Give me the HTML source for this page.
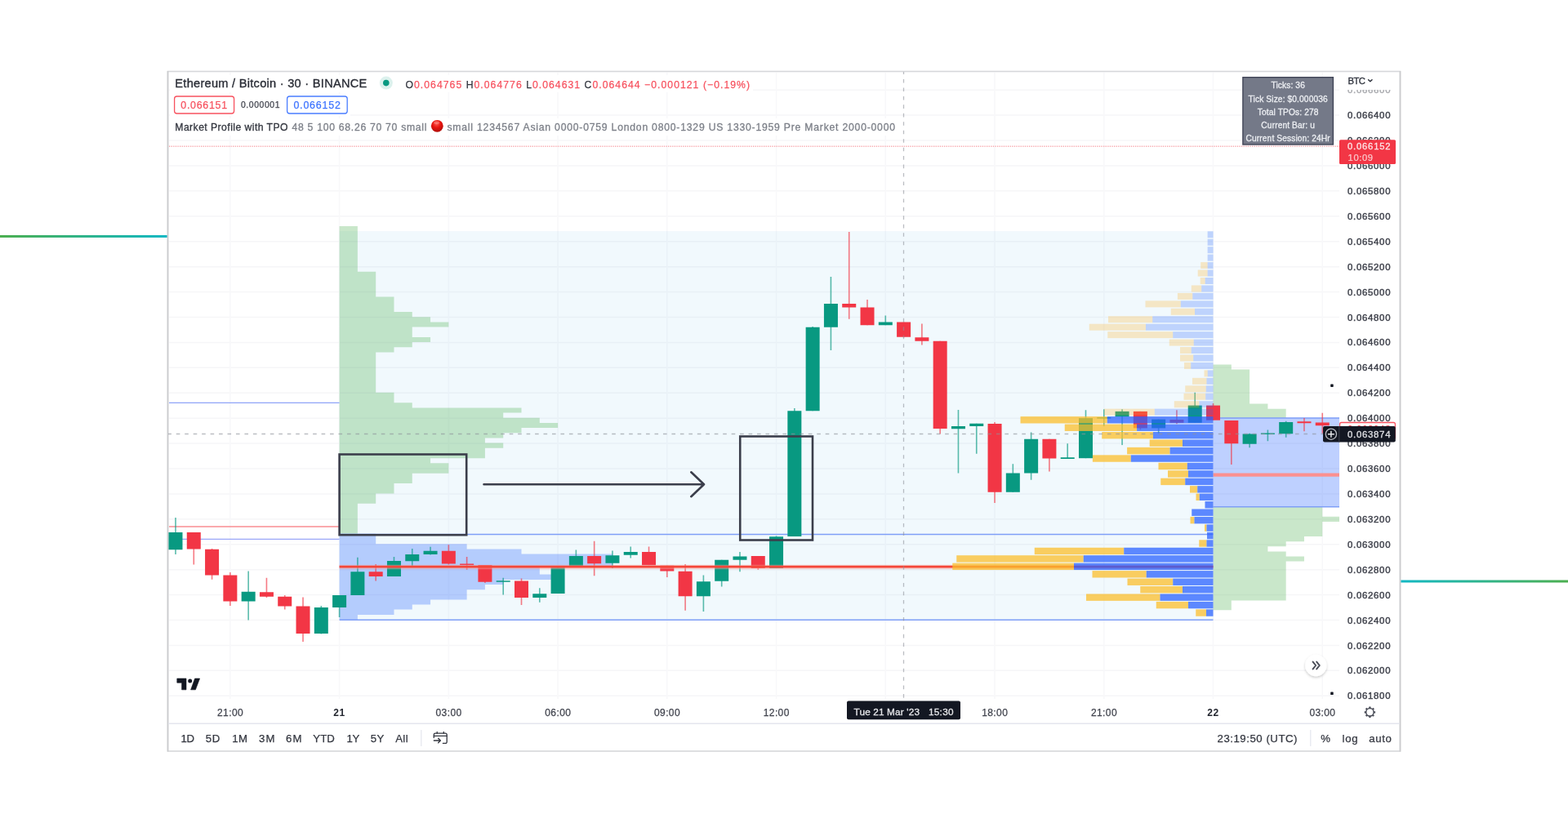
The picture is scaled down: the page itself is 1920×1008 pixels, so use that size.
<!DOCTYPE html>
<html lang="en">
<head>
<meta charset="utf-8">
<title>Ethereum / Bitcoin - Market Profile with TPO</title>
<style>
html,body{margin:0;padding:0;background:#fff;}
body{width:1920px;height:1008px;overflow:hidden;font-family:"Liberation Sans",sans-serif;}
svg{display:block;font-family:"Liberation Sans",sans-serif;filter:blur(0.55px);}
svg text{white-space:pre;}
</style>
</head>
<body>
<svg width="1920" height="1008" viewBox="0 0 1920 1008">
<defs>
<linearGradient id="gl" x1="0" x2="1" y1="0" y2="0"><stop offset="0" stop-color="#4caf50"/><stop offset="1" stop-color="#12b8c4"/></linearGradient>
<linearGradient id="gr" x1="0" x2="1" y1="0" y2="0"><stop offset="0" stop-color="#12b8c4"/><stop offset="1" stop-color="#4caf50"/></linearGradient>
<radialGradient id="ball" cx="0.45" cy="0.3" r="0.75"><stop offset="0" stop-color="#ff5a4e"/><stop offset="0.45" stop-color="#e8150f"/><stop offset="1" stop-color="#a80d08"/></radialGradient>
<clipPath id="pane"><rect x="206" y="88" width="1434" height="770"/></clipPath>
<clipPath id="axclip"><rect x="1641" y="109.8" width="73" height="750"/></clipPath>
<filter id="sh" x="-50%" y="-50%" width="200%" height="200%"><feDropShadow dx="0" dy="1.5" stdDeviation="1.5" flood-color="#000" flood-opacity="0.22"/></filter>
</defs>
<rect x="0.00" y="0.00" width="1920.00" height="1008.00" fill="#ffffff" />
<rect x="0.00" y="288.00" width="205.00" height="3.00" fill="url(#gl)" />
<rect x="1715.00" y="710.50" width="205.00" height="3.00" fill="url(#gr)" />
<rect x="205.5" y="87.5" width="1509" height="832.5" fill="#ffffff" stroke="#d6d7da" stroke-width="1.6"/>
<line x1="205.50" y1="87.00" x2="205.50" y2="920.50" stroke="#cbccce" stroke-width="1.6" />
<line x1="1714.50" y1="87.00" x2="1714.50" y2="920.50" stroke="#cbccce" stroke-width="1.6" />
<line x1="207.00" y1="110.19" x2="1640.00" y2="110.19" stroke="#f6f6f8" stroke-width="1.5" />
<line x1="207.00" y1="141.11" x2="1640.00" y2="141.11" stroke="#f6f6f8" stroke-width="1.5" />
<line x1="207.00" y1="172.03" x2="1640.00" y2="172.03" stroke="#f6f6f8" stroke-width="1.5" />
<line x1="207.00" y1="202.95" x2="1640.00" y2="202.95" stroke="#f6f6f8" stroke-width="1.5" />
<line x1="207.00" y1="233.87" x2="1640.00" y2="233.87" stroke="#f6f6f8" stroke-width="1.5" />
<line x1="207.00" y1="264.79" x2="1640.00" y2="264.79" stroke="#f6f6f8" stroke-width="1.5" />
<line x1="207.00" y1="295.71" x2="1640.00" y2="295.71" stroke="#f6f6f8" stroke-width="1.5" />
<line x1="207.00" y1="326.63" x2="1640.00" y2="326.63" stroke="#f6f6f8" stroke-width="1.5" />
<line x1="207.00" y1="357.55" x2="1640.00" y2="357.55" stroke="#f6f6f8" stroke-width="1.5" />
<line x1="207.00" y1="388.47" x2="1640.00" y2="388.47" stroke="#f6f6f8" stroke-width="1.5" />
<line x1="207.00" y1="419.39" x2="1640.00" y2="419.39" stroke="#f6f6f8" stroke-width="1.5" />
<line x1="207.00" y1="450.31" x2="1640.00" y2="450.31" stroke="#f6f6f8" stroke-width="1.5" />
<line x1="207.00" y1="481.23" x2="1640.00" y2="481.23" stroke="#f6f6f8" stroke-width="1.5" />
<line x1="207.00" y1="512.15" x2="1640.00" y2="512.15" stroke="#f6f6f8" stroke-width="1.5" />
<line x1="207.00" y1="543.07" x2="1640.00" y2="543.07" stroke="#f6f6f8" stroke-width="1.5" />
<line x1="207.00" y1="573.99" x2="1640.00" y2="573.99" stroke="#f6f6f8" stroke-width="1.5" />
<line x1="207.00" y1="604.91" x2="1640.00" y2="604.91" stroke="#f6f6f8" stroke-width="1.5" />
<line x1="207.00" y1="635.83" x2="1640.00" y2="635.83" stroke="#f6f6f8" stroke-width="1.5" />
<line x1="207.00" y1="666.75" x2="1640.00" y2="666.75" stroke="#f6f6f8" stroke-width="1.5" />
<line x1="207.00" y1="697.67" x2="1640.00" y2="697.67" stroke="#f6f6f8" stroke-width="1.5" />
<line x1="207.00" y1="728.59" x2="1640.00" y2="728.59" stroke="#f6f6f8" stroke-width="1.5" />
<line x1="207.00" y1="759.51" x2="1640.00" y2="759.51" stroke="#f6f6f8" stroke-width="1.5" />
<line x1="207.00" y1="790.43" x2="1640.00" y2="790.43" stroke="#f6f6f8" stroke-width="1.5" />
<line x1="207.00" y1="821.35" x2="1640.00" y2="821.35" stroke="#f6f6f8" stroke-width="1.5" />
<line x1="207.00" y1="852.27" x2="1640.00" y2="852.27" stroke="#f6f6f8" stroke-width="1.5" />
<line x1="281.86" y1="89.00" x2="281.86" y2="856.00" stroke="#f8f8fa" stroke-width="1.6" />
<line x1="415.60" y1="89.00" x2="415.60" y2="856.00" stroke="#f8f8fa" stroke-width="1.6" />
<line x1="549.34" y1="89.00" x2="549.34" y2="856.00" stroke="#f8f8fa" stroke-width="1.6" />
<line x1="683.08" y1="89.00" x2="683.08" y2="856.00" stroke="#f8f8fa" stroke-width="1.6" />
<line x1="816.82" y1="89.00" x2="816.82" y2="856.00" stroke="#f8f8fa" stroke-width="1.6" />
<line x1="950.56" y1="89.00" x2="950.56" y2="856.00" stroke="#f8f8fa" stroke-width="1.6" />
<line x1="1084.30" y1="89.00" x2="1084.30" y2="856.00" stroke="#f8f8fa" stroke-width="1.6" />
<line x1="1218.04" y1="89.00" x2="1218.04" y2="856.00" stroke="#f8f8fa" stroke-width="1.6" />
<line x1="1351.78" y1="89.00" x2="1351.78" y2="856.00" stroke="#f8f8fa" stroke-width="1.6" />
<line x1="1485.52" y1="89.00" x2="1485.52" y2="856.00" stroke="#f8f8fa" stroke-width="1.6" />
<line x1="1619.26" y1="89.00" x2="1619.26" y2="856.00" stroke="#f8f8fa" stroke-width="1.6" />
<rect x="415.60" y="283.10" width="1069.92" height="475.90" fill="rgba(41,167,230,0.068)" />
<line x1="207.00" y1="179.30" x2="1640.00" y2="179.30" stroke="#f8aab0" stroke-width="1.5" stroke-dasharray="1.3 1.3"/>
<path d="M415.60 277.05 L437.89 277.05 L437.89 332.63 L460.18 332.63 L460.18 363.51 L482.47 363.51 L482.47 382.04 L504.76 382.04 L504.76 388.22 L527.05 388.22 L527.05 394.39 L549.34 394.39 L549.34 400.57 L504.76 400.57 L504.76 412.92 L527.05 412.92 L527.05 419.10 L504.76 419.10 L504.76 425.27 L482.47 425.27 L482.47 431.45 L460.18 431.45 L460.18 480.86 L482.47 480.86 L482.47 493.21 L504.76 493.21 L504.76 499.39 L638.50 499.39 L638.50 505.56 L616.21 505.56 L616.21 511.74 L660.79 511.74 L660.79 517.91 L683.08 517.91 L683.08 524.09 L638.50 524.09 L638.50 530.27 L616.21 530.27 L616.21 536.44 L593.92 536.44 L593.92 542.62 L616.21 542.62 L616.21 548.79 L593.92 548.79 L593.92 561.15 L527.05 561.15 L527.05 567.32 L549.34 567.32 L549.34 579.67 L504.76 579.67 L504.76 592.03 L482.47 592.03 L482.47 604.38 L460.18 604.38 L460.18 616.73 L437.89 616.73 L437.89 653.79 L415.60 653.79 Z" fill="#4caf50" fill-opacity="0.3"/>
<path d="M415.60 653.80 L460.18 653.80 L460.18 666.20 L571.63 666.20 L571.63 672.40 L638.50 672.40 L638.50 678.60 L749.95 678.60 L749.95 693.60 L660.79 693.60 L660.79 703.60 L683.08 703.60 L683.08 709.90 L616.21 709.90 L616.21 716.10 L593.92 716.10 L593.92 722.30 L571.63 722.30 L571.63 734.40 L527.05 734.40 L527.05 740.40 L504.76 740.40 L504.76 746.60 L482.47 746.60 L482.47 753.00 L437.89 753.00 L437.89 759.00 L415.60 759.00 Z" fill="#2962ff" fill-opacity="0.3"/>
<path d="M1485.52 446.50 L1507.81 446.50 L1507.81 452.60 L1530.10 452.60 L1530.10 494.60 L1552.39 494.60 L1552.39 500.80 L1574.68 500.80 L1574.68 512.00 L1485.52 512.00 Z" fill="#4caf50" fill-opacity="0.3" clip-path="url(#pane)"/>
<path d="M1485.52 620.70 L1619.26 620.70 L1619.26 632.75 L1641.55 632.75 L1641.55 639.00 L1619.26 639.00 L1619.26 657.00 L1596.97 657.00 L1596.97 663.25 L1574.68 663.25 L1574.68 669.30 L1552.39 669.30 L1552.39 675.40 L1574.68 675.40 L1574.68 681.50 L1596.97 681.50 L1596.97 687.60 L1574.68 687.60 L1574.68 735.40 L1507.81 735.40 L1507.81 747.20 L1485.52 747.20 Z" fill="#4caf50" fill-opacity="0.3" clip-path="url(#pane)"/>
<rect x="1485.52" y="512.00" width="154.48" height="108.50" fill="#2962ff" fill-opacity="0.3"/>
<line x1="207.00" y1="493.40" x2="415.60" y2="493.40" stroke="#8fa4f8" stroke-width="1.4" />
<line x1="207.00" y1="660.40" x2="415.60" y2="660.40" stroke="#9aa6f8" stroke-width="1.3" />
<line x1="415.60" y1="654.60" x2="1485.52" y2="654.60" stroke="#7f9ff8" stroke-width="1.5" />
<line x1="415.60" y1="759.30" x2="1485.52" y2="759.30" stroke="#7f9ff8" stroke-width="1.5" />
<line x1="1485.52" y1="512.00" x2="1640.00" y2="512.00" stroke="#7f9ff8" stroke-width="1.5" />
<line x1="1485.52" y1="620.70" x2="1640.00" y2="620.70" stroke="#7f9ff8" stroke-width="1.5" />
<line x1="207.00" y1="645.00" x2="415.60" y2="645.00" stroke="#fa8d92" stroke-width="1.7" />
<line x1="1485.52" y1="581.60" x2="1640.00" y2="581.60" stroke="#fb9090" stroke-width="4.2" />
<g clip-path="url(#pane)">
<rect x="214.19" y="634.00" width="1.60" height="45.00" fill="#089981" fill-opacity="0.66"/>
<rect x="206.49" y="652.00" width="17.00" height="21.25" fill="#089981" />
<rect x="236.48" y="652.00" width="1.60" height="39.50" fill="#f23645" fill-opacity="0.66"/>
<rect x="228.78" y="652.00" width="17.00" height="20.50" fill="#f23645" />
<rect x="258.77" y="672.00" width="1.60" height="37.75" fill="#f23645" fill-opacity="0.66"/>
<rect x="251.07" y="672.75" width="17.00" height="31.75" fill="#f23645" />
<rect x="281.06" y="701.00" width="1.60" height="41.00" fill="#f23645" fill-opacity="0.66"/>
<rect x="273.36" y="704.50" width="17.00" height="32.00" fill="#f23645" />
<rect x="303.35" y="699.50" width="1.60" height="60.00" fill="#089981" fill-opacity="0.66"/>
<rect x="295.65" y="724.75" width="17.00" height="11.75" fill="#089981" />
<rect x="325.64" y="707.75" width="1.60" height="24.25" fill="#f23645" fill-opacity="0.66"/>
<rect x="317.94" y="725.25" width="17.00" height="5.50" fill="#f23645" />
<rect x="347.93" y="729.00" width="1.60" height="17.50" fill="#f23645" fill-opacity="0.66"/>
<rect x="340.23" y="730.75" width="17.00" height="11.75" fill="#f23645" />
<rect x="370.22" y="731.50" width="1.60" height="54.50" fill="#f23645" fill-opacity="0.66"/>
<rect x="362.52" y="742.50" width="17.00" height="33.50" fill="#f23645" />
<rect x="392.51" y="742.00" width="1.60" height="34.50" fill="#089981" fill-opacity="0.66"/>
<rect x="384.81" y="744.00" width="17.00" height="32.00" fill="#089981" />
<rect x="414.80" y="729.00" width="1.60" height="27.00" fill="#089981" fill-opacity="0.66"/>
<rect x="407.10" y="729.00" width="17.00" height="15.00" fill="#089981" />
<rect x="437.09" y="682.75" width="1.60" height="46.25" fill="#089981" fill-opacity="0.66"/>
<rect x="429.39" y="700.25" width="17.00" height="28.75" fill="#089981" />
<rect x="459.38" y="691.00" width="1.60" height="20.50" fill="#f23645" fill-opacity="0.66"/>
<rect x="451.68" y="700.25" width="17.00" height="5.75" fill="#f23645" />
<rect x="481.67" y="682.00" width="1.60" height="24.00" fill="#089981" fill-opacity="0.66"/>
<rect x="473.97" y="687.00" width="17.00" height="19.00" fill="#089981" />
<rect x="503.96" y="672.00" width="1.60" height="21.50" fill="#089981" fill-opacity="0.66"/>
<rect x="496.26" y="679.00" width="17.00" height="8.25" fill="#089981" />
<rect x="526.25" y="669.75" width="1.60" height="9.75" fill="#089981" fill-opacity="0.66"/>
<rect x="518.55" y="674.75" width="17.00" height="4.25" fill="#089981" />
<rect x="548.54" y="667.25" width="1.60" height="24.25" fill="#f23645" fill-opacity="0.66"/>
<rect x="540.84" y="674.75" width="17.00" height="15.75" fill="#f23645" />
<rect x="570.83" y="682.00" width="1.60" height="15.75" fill="#f23645" fill-opacity="0.66"/>
<rect x="563.13" y="690.50" width="17.00" height="1.50" fill="#f23645" />
<rect x="593.12" y="692.00" width="1.60" height="22.00" fill="#f23645" fill-opacity="0.66"/>
<rect x="585.42" y="692.00" width="17.00" height="20.75" fill="#f23645" />
<rect x="615.41" y="707.75" width="1.60" height="20.75" fill="#089981" fill-opacity="0.66"/>
<rect x="607.71" y="711.25" width="17.00" height="1.50" fill="#089981" />
<rect x="637.70" y="708.50" width="1.60" height="32.50" fill="#f23645" fill-opacity="0.66"/>
<rect x="630.00" y="711.50" width="17.00" height="20.50" fill="#f23645" />
<rect x="659.99" y="720.25" width="1.60" height="17.50" fill="#089981" fill-opacity="0.66"/>
<rect x="652.29" y="727.25" width="17.00" height="4.75" fill="#089981" />
<rect x="682.28" y="694.00" width="1.60" height="33.00" fill="#089981" fill-opacity="0.66"/>
<rect x="674.58" y="695.25" width="17.00" height="31.75" fill="#089981" />
<rect x="704.57" y="673.50" width="1.60" height="19.75" fill="#089981" fill-opacity="0.66"/>
<rect x="696.87" y="681.00" width="17.00" height="12.25" fill="#089981" />
<rect x="726.86" y="662.75" width="1.60" height="42.50" fill="#f23645" fill-opacity="0.66"/>
<rect x="719.16" y="681.00" width="17.00" height="9.25" fill="#f23645" />
<rect x="749.15" y="674.50" width="1.60" height="21.50" fill="#089981" fill-opacity="0.66"/>
<rect x="741.45" y="680.25" width="17.00" height="9.50" fill="#089981" />
<rect x="771.44" y="669.50" width="1.60" height="14.00" fill="#089981" fill-opacity="0.66"/>
<rect x="763.74" y="676.00" width="17.00" height="3.75" fill="#089981" />
<rect x="793.73" y="669.50" width="1.60" height="22.75" fill="#f23645" fill-opacity="0.66"/>
<rect x="786.03" y="676.00" width="17.00" height="16.25" fill="#f23645" />
<rect x="816.02" y="692.75" width="1.60" height="14.25" fill="#f23645" fill-opacity="0.66"/>
<rect x="808.32" y="692.75" width="17.00" height="6.75" fill="#f23645" />
<rect x="838.31" y="691.00" width="1.60" height="56.75" fill="#f23645" fill-opacity="0.66"/>
<rect x="830.61" y="699.75" width="17.00" height="30.50" fill="#f23645" />
<rect x="860.60" y="704.50" width="1.60" height="44.50" fill="#089981" fill-opacity="0.66"/>
<rect x="852.90" y="712.25" width="17.00" height="18.00" fill="#089981" />
<rect x="882.89" y="685.75" width="1.60" height="32.75" fill="#089981" fill-opacity="0.66"/>
<rect x="875.19" y="685.75" width="17.00" height="26.00" fill="#089981" />
<rect x="905.18" y="676.00" width="1.60" height="24.25" fill="#089981" fill-opacity="0.66"/>
<rect x="897.48" y="681.50" width="17.00" height="4.25" fill="#089981" />
<rect x="927.47" y="681.00" width="1.60" height="16.75" fill="#f23645" fill-opacity="0.66"/>
<rect x="919.77" y="681.00" width="17.00" height="15.00" fill="#f23645" />
<rect x="949.76" y="656.50" width="1.60" height="39.50" fill="#089981" fill-opacity="0.66"/>
<rect x="942.06" y="657.25" width="17.00" height="38.75" fill="#089981" />
<rect x="972.05" y="500.00" width="1.60" height="157.00" fill="#089981" fill-opacity="0.66"/>
<rect x="964.35" y="503.25" width="17.00" height="153.75" fill="#089981" />
<rect x="994.34" y="400.00" width="1.60" height="103.25" fill="#089981" fill-opacity="0.66"/>
<rect x="986.64" y="400.75" width="17.00" height="102.50" fill="#089981" />
<rect x="1016.63" y="339.00" width="1.60" height="90.00" fill="#089981" fill-opacity="0.66"/>
<rect x="1008.93" y="372.00" width="17.00" height="28.75" fill="#089981" />
<rect x="1038.92" y="284.00" width="1.60" height="106.75" fill="#f23645" fill-opacity="0.66"/>
<rect x="1031.22" y="372.00" width="17.00" height="4.50" fill="#f23645" />
<rect x="1061.21" y="367.00" width="1.60" height="31.25" fill="#f23645" fill-opacity="0.66"/>
<rect x="1053.51" y="376.50" width="17.00" height="21.75" fill="#f23645" />
<rect x="1083.50" y="386.50" width="1.60" height="11.75" fill="#089981" fill-opacity="0.66"/>
<rect x="1075.80" y="394.50" width="17.00" height="3.75" fill="#089981" />
<rect x="1105.79" y="394.50" width="1.60" height="18.75" fill="#f23645" fill-opacity="0.66"/>
<rect x="1098.09" y="394.50" width="17.00" height="18.25" fill="#f23645" />
<rect x="1128.08" y="396.50" width="1.60" height="26.00" fill="#f23645" fill-opacity="0.66"/>
<rect x="1120.38" y="413.25" width="17.00" height="4.50" fill="#f23645" />
<rect x="1150.37" y="417.75" width="1.60" height="113.75" fill="#f23645" fill-opacity="0.66"/>
<rect x="1142.67" y="417.75" width="17.00" height="107.25" fill="#f23645" />
<rect x="1172.66" y="502.00" width="1.60" height="77.50" fill="#089981" fill-opacity="0.66"/>
<rect x="1164.96" y="522.00" width="17.00" height="3.25" fill="#089981" />
<rect x="1194.95" y="518.75" width="1.60" height="37.00" fill="#089981" fill-opacity="0.66"/>
<rect x="1187.25" y="518.75" width="17.00" height="3.25" fill="#089981" />
<rect x="1217.24" y="517.00" width="1.60" height="99.00" fill="#f23645" fill-opacity="0.66"/>
<rect x="1209.54" y="519.00" width="17.00" height="83.75" fill="#f23645" />
<rect x="1239.53" y="568.25" width="1.60" height="34.50" fill="#089981" fill-opacity="0.66"/>
<rect x="1231.83" y="579.50" width="17.00" height="23.25" fill="#089981" />
<rect x="1261.82" y="529.50" width="1.60" height="58.25" fill="#089981" fill-opacity="0.66"/>
<rect x="1254.12" y="537.75" width="17.00" height="41.75" fill="#089981" />
<rect x="1284.11" y="537.75" width="1.60" height="39.75" fill="#f23645" fill-opacity="0.66"/>
<rect x="1276.41" y="537.75" width="17.00" height="23.75" fill="#f23645" />
<rect x="1306.40" y="543.25" width="1.60" height="18.75" fill="#089981" fill-opacity="0.66"/>
<rect x="1298.70" y="560.25" width="17.00" height="1.75" fill="#089981" />
<rect x="1328.69" y="502.25" width="1.60" height="58.95" fill="#089981" fill-opacity="0.66"/>
<rect x="1320.99" y="512.10" width="17.00" height="49.10" fill="#089981" />
<rect x="1350.98" y="501.30" width="1.60" height="20.70" fill="#089981" fill-opacity="0.66"/>
<rect x="1343.28" y="511.20" width="17.00" height="1.40" fill="#089981" />
<rect x="1373.27" y="501.30" width="1.60" height="43.80" fill="#089981" fill-opacity="0.66"/>
<rect x="1365.57" y="503.90" width="17.00" height="6.40" fill="#089981" />
<rect x="1395.56" y="503.90" width="1.60" height="22.40" fill="#f23645" fill-opacity="0.66"/>
<rect x="1387.86" y="503.90" width="17.00" height="20.50" fill="#f23645" />
<rect x="1417.85" y="513.60" width="1.60" height="16.90" fill="#089981" fill-opacity="0.66"/>
<rect x="1410.15" y="513.60" width="17.00" height="10.80" fill="#089981" />
<rect x="1440.14" y="502.30" width="1.60" height="16.90" fill="#f23645" fill-opacity="0.66"/>
<rect x="1432.44" y="514.00" width="17.00" height="3.80" fill="#f23645" />
<rect x="1462.43" y="480.75" width="1.60" height="37.05" fill="#089981" fill-opacity="0.66"/>
<rect x="1454.73" y="496.60" width="17.00" height="21.20" fill="#089981" />
<rect x="1484.72" y="494.00" width="1.60" height="20.70" fill="#f23645" fill-opacity="0.66"/>
<rect x="1477.02" y="496.60" width="17.00" height="18.10" fill="#f23645" />
<rect x="1507.01" y="515.00" width="1.60" height="54.00" fill="#f23645" fill-opacity="0.66"/>
<rect x="1499.31" y="515.00" width="17.00" height="28.25" fill="#f23645" />
<rect x="1529.30" y="530.75" width="1.60" height="17.50" fill="#089981" fill-opacity="0.66"/>
<rect x="1521.60" y="531.50" width="17.00" height="12.25" fill="#089981" />
<rect x="1551.59" y="526.50" width="1.60" height="13.75" fill="#089981" fill-opacity="0.66"/>
<rect x="1543.89" y="530.50" width="17.00" height="1.40" fill="#089981" />
<rect x="1573.88" y="515.75" width="1.60" height="20.00" fill="#089981" fill-opacity="0.66"/>
<rect x="1566.18" y="517.00" width="17.00" height="14.25" fill="#089981" />
<rect x="1596.17" y="512.00" width="1.60" height="16.25" fill="#f23645" fill-opacity="0.66"/>
<rect x="1588.47" y="516.25" width="17.00" height="2.00" fill="#f23645" />
<rect x="1618.46" y="505.75" width="1.60" height="25.00" fill="#f23645" fill-opacity="0.66"/>
<rect x="1610.76" y="517.50" width="17.00" height="3.75" fill="#f23645" />
</g>
<line x1="415.60" y1="694.50" x2="1485.52" y2="694.50" stroke="#f9a49c" stroke-width="5.6" stroke-opacity="0.45"/>
<line x1="415.60" y1="694.20" x2="1485.52" y2="694.20" stroke="#f4473a" stroke-width="2.7" />
<rect x="1478.65" y="283.30" width="6.87" height="8.00" fill="#2962ff" fill-opacity="0.25"/>
<rect x="1478.65" y="292.75" width="6.87" height="8.00" fill="#2962ff" fill-opacity="0.25"/>
<rect x="1478.65" y="302.20" width="6.87" height="8.00" fill="#2962ff" fill-opacity="0.25"/>
<rect x="1478.65" y="311.65" width="6.87" height="8.00" fill="#2962ff" fill-opacity="0.25"/>
<rect x="1470.20" y="321.10" width="8.45" height="8.00" fill="#ffb020" fill-opacity="0.25"/>
<rect x="1478.65" y="321.10" width="6.87" height="8.00" fill="#2962ff" fill-opacity="0.25"/>
<rect x="1466.70" y="330.55" width="11.95" height="8.00" fill="#ffb020" fill-opacity="0.25"/>
<rect x="1478.65" y="330.55" width="6.87" height="8.00" fill="#2962ff" fill-opacity="0.25"/>
<rect x="1469.70" y="340.00" width="6.00" height="8.00" fill="#ffb020" fill-opacity="0.25"/>
<rect x="1475.70" y="340.00" width="9.82" height="8.00" fill="#2962ff" fill-opacity="0.25"/>
<rect x="1458.80" y="349.45" width="12.40" height="8.00" fill="#ffb020" fill-opacity="0.25"/>
<rect x="1471.20" y="349.45" width="14.32" height="8.00" fill="#2962ff" fill-opacity="0.25"/>
<rect x="1441.90" y="358.90" width="18.40" height="8.00" fill="#ffb020" fill-opacity="0.25"/>
<rect x="1460.30" y="358.90" width="25.22" height="8.00" fill="#2962ff" fill-opacity="0.25"/>
<rect x="1402.50" y="368.35" width="43.30" height="8.00" fill="#ffb020" fill-opacity="0.25"/>
<rect x="1445.80" y="368.35" width="39.72" height="8.00" fill="#2962ff" fill-opacity="0.25"/>
<rect x="1433.75" y="377.80" width="29.25" height="8.00" fill="#ffb020" fill-opacity="0.25"/>
<rect x="1463.00" y="377.80" width="22.52" height="8.00" fill="#2962ff" fill-opacity="0.25"/>
<rect x="1357.00" y="387.25" width="54.25" height="8.00" fill="#ffb020" fill-opacity="0.25"/>
<rect x="1411.25" y="387.25" width="74.27" height="8.00" fill="#2962ff" fill-opacity="0.25"/>
<rect x="1333.75" y="396.70" width="69.25" height="8.00" fill="#ffb020" fill-opacity="0.25"/>
<rect x="1403.00" y="396.70" width="82.52" height="8.00" fill="#2962ff" fill-opacity="0.25"/>
<rect x="1356.25" y="406.15" width="80.00" height="8.00" fill="#ffb020" fill-opacity="0.25"/>
<rect x="1436.25" y="406.15" width="49.27" height="8.00" fill="#2962ff" fill-opacity="0.25"/>
<rect x="1431.75" y="415.60" width="30.00" height="8.00" fill="#ffb020" fill-opacity="0.25"/>
<rect x="1461.75" y="415.60" width="23.77" height="8.00" fill="#2962ff" fill-opacity="0.25"/>
<rect x="1445.00" y="425.05" width="13.75" height="8.00" fill="#ffb020" fill-opacity="0.25"/>
<rect x="1458.75" y="425.05" width="26.77" height="8.00" fill="#2962ff" fill-opacity="0.25"/>
<rect x="1445.00" y="434.50" width="16.25" height="8.00" fill="#ffb020" fill-opacity="0.25"/>
<rect x="1461.25" y="434.50" width="24.27" height="8.00" fill="#2962ff" fill-opacity="0.25"/>
<rect x="1450.00" y="443.95" width="8.25" height="8.00" fill="#ffb020" fill-opacity="0.25"/>
<rect x="1458.25" y="443.95" width="27.27" height="8.00" fill="#2962ff" fill-opacity="0.25"/>
<rect x="1474.50" y="453.40" width="4.25" height="8.00" fill="#ffb020" fill-opacity="0.25"/>
<rect x="1478.75" y="453.40" width="6.77" height="8.00" fill="#2962ff" fill-opacity="0.25"/>
<rect x="1460.00" y="462.85" width="17.50" height="8.00" fill="#ffb020" fill-opacity="0.25"/>
<rect x="1477.50" y="462.85" width="8.02" height="8.00" fill="#2962ff" fill-opacity="0.25"/>
<rect x="1451.25" y="472.30" width="25.50" height="8.00" fill="#ffb020" fill-opacity="0.25"/>
<rect x="1476.75" y="472.30" width="8.77" height="8.00" fill="#2962ff" fill-opacity="0.25"/>
<rect x="1449.50" y="481.75" width="26.75" height="8.00" fill="#ffb020" fill-opacity="0.25"/>
<rect x="1476.25" y="481.75" width="9.27" height="8.00" fill="#2962ff" fill-opacity="0.25"/>
<rect x="1437.80" y="491.20" width="30.60" height="8.00" fill="#ffb020" fill-opacity="0.25"/>
<rect x="1468.40" y="491.20" width="17.12" height="8.00" fill="#2962ff" fill-opacity="0.25"/>
<rect x="1352.00" y="500.65" width="61.80" height="8.00" fill="#ffb020" fill-opacity="0.25"/>
<rect x="1413.80" y="500.65" width="71.72" height="8.00" fill="#2962ff" fill-opacity="0.25"/>
<rect x="1249.50" y="510.10" width="106.30" height="8.40" fill="#fbbd2b" fill-opacity="0.75"/>
<rect x="1355.80" y="510.10" width="129.72" height="8.40" fill="#2962ff" fill-opacity="0.75"/>
<rect x="1303.75" y="519.55" width="88.35" height="8.40" fill="#fbbd2b" fill-opacity="0.75"/>
<rect x="1392.10" y="519.55" width="93.42" height="8.40" fill="#2962ff" fill-opacity="0.75"/>
<rect x="1349.20" y="529.00" width="62.70" height="8.40" fill="#fbbd2b" fill-opacity="0.75"/>
<rect x="1411.90" y="529.00" width="73.62" height="8.40" fill="#2962ff" fill-opacity="0.75"/>
<rect x="1407.70" y="538.45" width="40.30" height="8.40" fill="#fbbd2b" fill-opacity="0.75"/>
<rect x="1448.00" y="538.45" width="37.52" height="8.40" fill="#2962ff" fill-opacity="0.75"/>
<rect x="1380.10" y="547.90" width="52.50" height="8.40" fill="#fbbd2b" fill-opacity="0.75"/>
<rect x="1432.60" y="547.90" width="52.92" height="8.40" fill="#2962ff" fill-opacity="0.75"/>
<rect x="1337.90" y="557.35" width="46.90" height="8.40" fill="#fbbd2b" fill-opacity="0.75"/>
<rect x="1384.80" y="557.35" width="100.72" height="8.40" fill="#2962ff" fill-opacity="0.75"/>
<rect x="1418.50" y="566.80" width="35.30" height="8.40" fill="#fbbd2b" fill-opacity="0.75"/>
<rect x="1453.80" y="566.80" width="31.72" height="8.40" fill="#2962ff" fill-opacity="0.75"/>
<rect x="1430.00" y="576.25" width="25.00" height="8.40" fill="#fbbd2b" fill-opacity="0.75"/>
<rect x="1455.00" y="576.25" width="30.52" height="8.40" fill="#2962ff" fill-opacity="0.75"/>
<rect x="1421.25" y="585.70" width="30.00" height="8.40" fill="#fbbd2b" fill-opacity="0.75"/>
<rect x="1451.25" y="585.70" width="34.27" height="8.40" fill="#2962ff" fill-opacity="0.75"/>
<rect x="1457.00" y="595.15" width="9.25" height="8.40" fill="#fbbd2b" fill-opacity="0.75"/>
<rect x="1466.25" y="595.15" width="19.27" height="8.40" fill="#2962ff" fill-opacity="0.75"/>
<rect x="1464.50" y="604.60" width="4.25" height="8.40" fill="#fbbd2b" fill-opacity="0.75"/>
<rect x="1468.75" y="604.60" width="16.77" height="8.40" fill="#2962ff" fill-opacity="0.75"/>
<rect x="1475.50" y="614.05" width="10.02" height="8.40" fill="#2962ff" fill-opacity="0.75"/>
<rect x="1459.25" y="623.50" width="26.27" height="8.40" fill="#2962ff" fill-opacity="0.75"/>
<rect x="1457.50" y="632.95" width="5.00" height="8.40" fill="#fbbd2b" fill-opacity="0.75"/>
<rect x="1462.50" y="632.95" width="23.02" height="8.40" fill="#2962ff" fill-opacity="0.75"/>
<rect x="1475.00" y="642.40" width="2.50" height="8.40" fill="#fbbd2b" fill-opacity="0.75"/>
<rect x="1477.50" y="642.40" width="8.02" height="8.40" fill="#2962ff" fill-opacity="0.75"/>
<rect x="1478.00" y="651.85" width="7.52" height="8.40" fill="#2962ff" fill-opacity="0.75"/>
<rect x="1468.25" y="661.30" width="9.25" height="8.40" fill="#fbbd2b" fill-opacity="0.75"/>
<rect x="1477.50" y="661.30" width="8.02" height="8.40" fill="#2962ff" fill-opacity="0.75"/>
<rect x="1266.75" y="670.75" width="109.50" height="8.40" fill="#fbbd2b" fill-opacity="0.75"/>
<rect x="1376.25" y="670.75" width="109.27" height="8.40" fill="#2962ff" fill-opacity="0.75"/>
<rect x="1171.25" y="680.20" width="155.50" height="8.40" fill="#fbbd2b" fill-opacity="0.75"/>
<rect x="1326.75" y="680.20" width="158.77" height="8.40" fill="#2962ff" fill-opacity="0.75"/>
<rect x="1166.25" y="689.65" width="148.75" height="8.40" fill="#fbbd2b" fill-opacity="0.75"/>
<rect x="1315.00" y="689.65" width="170.52" height="8.40" fill="#2962ff" fill-opacity="0.75"/>
<rect x="1337.50" y="699.10" width="66.25" height="8.40" fill="#fbbd2b" fill-opacity="0.75"/>
<rect x="1403.75" y="699.10" width="81.77" height="8.40" fill="#2962ff" fill-opacity="0.75"/>
<rect x="1380.50" y="708.55" width="55.75" height="8.40" fill="#fbbd2b" fill-opacity="0.75"/>
<rect x="1436.25" y="708.55" width="49.27" height="8.40" fill="#2962ff" fill-opacity="0.75"/>
<rect x="1396.25" y="718.00" width="51.75" height="8.40" fill="#fbbd2b" fill-opacity="0.75"/>
<rect x="1448.00" y="718.00" width="37.52" height="8.40" fill="#2962ff" fill-opacity="0.75"/>
<rect x="1330.00" y="727.45" width="90.50" height="8.40" fill="#fbbd2b" fill-opacity="0.75"/>
<rect x="1420.50" y="727.45" width="65.02" height="8.40" fill="#2962ff" fill-opacity="0.75"/>
<rect x="1415.75" y="736.90" width="39.25" height="8.40" fill="#fbbd2b" fill-opacity="0.75"/>
<rect x="1455.00" y="736.90" width="30.52" height="8.40" fill="#2962ff" fill-opacity="0.75"/>
<rect x="1464.25" y="746.35" width="12.75" height="8.40" fill="#fbbd2b" fill-opacity="0.75"/>
<rect x="1477.00" y="746.35" width="8.52" height="8.40" fill="#2962ff" fill-opacity="0.75"/>
<rect x="415.6" y="556.5" width="155.6" height="98.7" fill="none" stroke="#3b3e4b" stroke-width="2.6"/>
<rect x="906.25" y="534.5" width="88.75" height="127" fill="none" stroke="#3b3e4b" stroke-width="2.6"/>
<path d="M592.5 593.2 L861.5 593.2 M846.3 578.3 L862 593.2 L846.3 608.2" fill="none" stroke="#3b3e4b" stroke-width="2.6" stroke-linecap="round" stroke-linejoin="round"/>
<g clip-path="url(#pane)" stroke="#8e9199" stroke-opacity="0.6" stroke-width="1.3" stroke-dasharray="4.6 5.86">
<line x1="205.3" y1="531.5" x2="1622" y2="531.5"/>
<line x1="1106.5" y1="86.5" x2="1106.5" y2="855"/>
</g>
<g clip-path="url(#axclip)">
<text x="1650.00" y="114.29" font-size="11.4" fill="#40434d" text-anchor="start" font-weight="normal" textLength="52.5" lengthAdjust="spacing" stroke="#40434d" stroke-width="0.45">0.066600</text>
<text x="1650.00" y="145.21" font-size="11.4" fill="#40434d" text-anchor="start" font-weight="normal" textLength="52.5" lengthAdjust="spacing" stroke="#40434d" stroke-width="0.45">0.066400</text>
<text x="1650.00" y="176.13" font-size="11.4" fill="#40434d" text-anchor="start" font-weight="normal" textLength="52.5" lengthAdjust="spacing" stroke="#40434d" stroke-width="0.45">0.066200</text>
<text x="1650.00" y="207.05" font-size="11.4" fill="#40434d" text-anchor="start" font-weight="normal" textLength="52.5" lengthAdjust="spacing" stroke="#40434d" stroke-width="0.45">0.066000</text>
<text x="1650.00" y="237.97" font-size="11.4" fill="#40434d" text-anchor="start" font-weight="normal" textLength="52.5" lengthAdjust="spacing" stroke="#40434d" stroke-width="0.45">0.065800</text>
<text x="1650.00" y="268.89" font-size="11.4" fill="#40434d" text-anchor="start" font-weight="normal" textLength="52.5" lengthAdjust="spacing" stroke="#40434d" stroke-width="0.45">0.065600</text>
<text x="1650.00" y="299.81" font-size="11.4" fill="#40434d" text-anchor="start" font-weight="normal" textLength="52.5" lengthAdjust="spacing" stroke="#40434d" stroke-width="0.45">0.065400</text>
<text x="1650.00" y="330.73" font-size="11.4" fill="#40434d" text-anchor="start" font-weight="normal" textLength="52.5" lengthAdjust="spacing" stroke="#40434d" stroke-width="0.45">0.065200</text>
<text x="1650.00" y="361.65" font-size="11.4" fill="#40434d" text-anchor="start" font-weight="normal" textLength="52.5" lengthAdjust="spacing" stroke="#40434d" stroke-width="0.45">0.065000</text>
<text x="1650.00" y="392.57" font-size="11.4" fill="#40434d" text-anchor="start" font-weight="normal" textLength="52.5" lengthAdjust="spacing" stroke="#40434d" stroke-width="0.45">0.064800</text>
<text x="1650.00" y="423.49" font-size="11.4" fill="#40434d" text-anchor="start" font-weight="normal" textLength="52.5" lengthAdjust="spacing" stroke="#40434d" stroke-width="0.45">0.064600</text>
<text x="1650.00" y="454.41" font-size="11.4" fill="#40434d" text-anchor="start" font-weight="normal" textLength="52.5" lengthAdjust="spacing" stroke="#40434d" stroke-width="0.45">0.064400</text>
<text x="1650.00" y="485.33" font-size="11.4" fill="#40434d" text-anchor="start" font-weight="normal" textLength="52.5" lengthAdjust="spacing" stroke="#40434d" stroke-width="0.45">0.064200</text>
<text x="1650.00" y="516.25" font-size="11.4" fill="#40434d" text-anchor="start" font-weight="normal" textLength="52.5" lengthAdjust="spacing" stroke="#40434d" stroke-width="0.45">0.064000</text>
<text x="1650.00" y="547.17" font-size="11.4" fill="#40434d" text-anchor="start" font-weight="normal" textLength="52.5" lengthAdjust="spacing" stroke="#40434d" stroke-width="0.45">0.063800</text>
<text x="1650.00" y="578.09" font-size="11.4" fill="#40434d" text-anchor="start" font-weight="normal" textLength="52.5" lengthAdjust="spacing" stroke="#40434d" stroke-width="0.45">0.063600</text>
<text x="1650.00" y="609.01" font-size="11.4" fill="#40434d" text-anchor="start" font-weight="normal" textLength="52.5" lengthAdjust="spacing" stroke="#40434d" stroke-width="0.45">0.063400</text>
<text x="1650.00" y="639.93" font-size="11.4" fill="#40434d" text-anchor="start" font-weight="normal" textLength="52.5" lengthAdjust="spacing" stroke="#40434d" stroke-width="0.45">0.063200</text>
<text x="1650.00" y="670.85" font-size="11.4" fill="#40434d" text-anchor="start" font-weight="normal" textLength="52.5" lengthAdjust="spacing" stroke="#40434d" stroke-width="0.45">0.063000</text>
<text x="1650.00" y="701.77" font-size="11.4" fill="#40434d" text-anchor="start" font-weight="normal" textLength="52.5" lengthAdjust="spacing" stroke="#40434d" stroke-width="0.45">0.062800</text>
<text x="1650.00" y="732.69" font-size="11.4" fill="#40434d" text-anchor="start" font-weight="normal" textLength="52.5" lengthAdjust="spacing" stroke="#40434d" stroke-width="0.45">0.062600</text>
<text x="1650.00" y="763.61" font-size="11.4" fill="#40434d" text-anchor="start" font-weight="normal" textLength="52.5" lengthAdjust="spacing" stroke="#40434d" stroke-width="0.45">0.062400</text>
<text x="1650.00" y="794.53" font-size="11.4" fill="#40434d" text-anchor="start" font-weight="normal" textLength="52.5" lengthAdjust="spacing" stroke="#40434d" stroke-width="0.45">0.062200</text>
<text x="1650.00" y="825.45" font-size="11.4" fill="#40434d" text-anchor="start" font-weight="normal" textLength="52.5" lengthAdjust="spacing" stroke="#40434d" stroke-width="0.45">0.062000</text>
<text x="1650.00" y="856.37" font-size="11.4" fill="#40434d" text-anchor="start" font-weight="normal" textLength="52.5" lengthAdjust="spacing" stroke="#40434d" stroke-width="0.45">0.061800</text>
</g>
<rect x="1642.00" y="89.00" width="71.00" height="21.00" fill="#ffffff" />
<rect x="1642.00" y="110.00" width="71.00" height="5.50" fill="#ffffff" fill-opacity="0.55"/>
<text x="1650.40" y="103.30" font-size="11.3" fill="#2a2e39" text-anchor="start" font-weight="normal" textLength="21.6" lengthAdjust="spacing" stroke="#2a2e39" stroke-width="0.3">BTC</text>
<path d="M1675.6 97.7 L1677.8 99.7 L1680 97.7" fill="none" stroke="#2a2e39" stroke-width="1.5" stroke-linecap="round" stroke-linejoin="round"/>
<rect x="1640.00" y="171.30" width="69.00" height="29.70" fill="#f23645" rx="1.5"/>
<text x="1650.00" y="183.40" font-size="11.2" fill="#fde4e6" text-anchor="start" font-weight="normal" textLength="52.5" lengthAdjust="spacing" stroke="#fde4e6" stroke-width="0.3">0.066152</text>
<text x="1650.60" y="196.60" font-size="11.2" fill="#fbc9cd" text-anchor="start" font-weight="normal" textLength="30.5" lengthAdjust="spacing" stroke="#fbc9cd" stroke-width="0.2">10:09</text>
<rect x="1640.6" y="517.5" width="67.8" height="20" fill="#ffffff" stroke="#f7525f" stroke-width="1.3" rx="2"/>
<text x="1650.00" y="528.90" font-size="11.4" fill="#f23645" text-anchor="start" font-weight="normal" textLength="52.5" lengthAdjust="spacing" >0.063948</text>
<rect x="1620.00" y="522.00" width="88.80" height="19.60" fill="#131722" rx="2"/>
<circle cx="1629.9" cy="531.7" r="6.6" fill="none" stroke="#b9bcc3" stroke-width="1.3"/>
<path d="M1625.9 531.7 H1633.9 M1629.9 527.7 V535.7" fill="none" stroke="#e4e5e8" stroke-width="1.5"/>
<line x1="1639.80" y1="522.00" x2="1639.80" y2="541.60" stroke="#3a3e4a" stroke-width="1" />
<text x="1650.00" y="536.00" font-size="11.4" fill="#dfe0e4" text-anchor="start" font-weight="normal" textLength="52.5" lengthAdjust="spacing" stroke="#dfe0e4" stroke-width="0.3">0.063874</text>
<rect x="1629.20" y="470.40" width="3.50" height="3.50" fill="#131722" rx="0.6"/>
<rect x="1629.20" y="847.50" width="3.50" height="3.50" fill="#131722" rx="0.6"/>
<circle cx="1611.3" cy="815" r="13.2" fill="#ffffff" filter="url(#sh)"/>
<path d="M1607.6 810.6 L1611.2 815 L1607.6 819.4 M1612.2 810.6 L1615.8 815 L1612.2 819.4" fill="none" stroke="#474a55" stroke-width="1.9" stroke-linecap="round" stroke-linejoin="round"/>
<rect x="1521.9" y="94.7" width="110.5" height="82.3" fill="#747988" stroke="#414557" stroke-width="1.4"/>
<text x="1577.20" y="108.40" font-size="10.2" fill="#eceef2" text-anchor="middle" font-weight="normal" stroke="#eceef2" stroke-width="0.3" letter-spacing="0.12">Ticks: 36</text>
<text x="1577.20" y="124.65" font-size="10.2" fill="#eceef2" text-anchor="middle" font-weight="normal" stroke="#eceef2" stroke-width="0.3" letter-spacing="0.12">Tick Size: $0.000036</text>
<text x="1577.20" y="140.90" font-size="10.2" fill="#eceef2" text-anchor="middle" font-weight="normal" stroke="#eceef2" stroke-width="0.3" letter-spacing="0.12">Total TPOs: 278</text>
<text x="1577.20" y="157.15" font-size="10.2" fill="#eceef2" text-anchor="middle" font-weight="normal" stroke="#eceef2" stroke-width="0.3" letter-spacing="0.12">Current Bar: u</text>
<text x="1577.20" y="173.40" font-size="10.2" fill="#eceef2" text-anchor="middle" font-weight="normal" stroke="#eceef2" stroke-width="0.3" letter-spacing="0.12">Current Session: 24Hr</text>
<rect x="208.00" y="92.00" width="714.00" height="21.00" fill="#ffffff" />
<rect x="208.00" y="115.00" width="221.00" height="27.00" fill="#ffffff" />
<rect x="208.00" y="145.00" width="892.00" height="21.00" fill="#ffffff" />
<text x="214.30" y="107.40" font-size="14.6" fill="#2a2d36" text-anchor="start" font-weight="normal" textLength="235" lengthAdjust="spacing" stroke="#2a2d36" stroke-width="0.35">Ethereum / Bitcoin · 30 · BINANCE</text>
<circle cx="472.8" cy="101.6" r="8" fill="#089981" fill-opacity="0.14"/>
<circle cx="472.8" cy="101.6" r="3.8" fill="#089981"/>
<text x="496.5" y="108" font-size="12.2" fill="#33363f" stroke="#33363f" stroke-width="0.25" textLength="421.5" lengthAdjust="spacing">O<tspan fill="#f7525f" stroke="#f7525f">0.064765</tspan> H<tspan fill="#f7525f" stroke="#f7525f">0.064776</tspan> L<tspan fill="#f7525f" stroke="#f7525f">0.064631</tspan> C<tspan fill="#f7525f" stroke="#f7525f">0.064644 −0.000121 (−0.19%)</tspan></text>
<rect x="213.6" y="118" width="73" height="21" rx="3" fill="#ffffff" stroke="#f7525f" stroke-width="1.3"/>
<text x="221.30" y="133.00" font-size="12.4" fill="#f7525f" text-anchor="start" font-weight="normal" textLength="56.8" lengthAdjust="spacing" stroke="#f7525f" stroke-width="0.25">0.066151</text>
<text x="295.00" y="132.20" font-size="10.4" fill="#40434d" text-anchor="start" font-weight="normal" textLength="47.5" lengthAdjust="spacing" stroke="#40434d" stroke-width="0.25">0.000001</text>
<rect x="351.6" y="118" width="73.6" height="21" rx="3" fill="#ffffff" stroke="#4a7dff" stroke-width="1.3"/>
<text x="359.40" y="133.00" font-size="12.4" fill="#3d73ff" text-anchor="start" font-weight="normal" textLength="57.5" lengthAdjust="spacing" stroke="#3d73ff" stroke-width="0.25">0.066152</text>
<text x="214.30" y="159.50" font-size="12.2" fill="#33363f" text-anchor="start" font-weight="normal" textLength="138.2" lengthAdjust="spacing" stroke="#33363f" stroke-width="0.3">Market Profile with TPO</text>
<text x="357.50" y="159.50" font-size="12.2" fill="#7d8089" text-anchor="start" font-weight="normal" textLength="165" lengthAdjust="spacing" stroke="#7d8089" stroke-width="0.3">48 5 100 68.26 70 70 small</text>
<circle cx="535.3" cy="154.3" r="7.4" fill="url(#ball)"/>
<ellipse cx="534.6" cy="150.3" rx="3.6" ry="1.9" fill="#ffffff" fill-opacity="0.22"/>
<text x="547.50" y="159.50" font-size="12.2" fill="#7d8089" text-anchor="start" font-weight="normal" textLength="548.5" lengthAdjust="spacing" stroke="#7d8089" stroke-width="0.3">small 1234567 Asian 0000-0759 London 0800-1329 US 1330-1959 Pre Market 2000-0000</text>
<path d="M216.8 831 H228 V844.8 H222.6 V836.2 H216.8 Z" fill="#131722" stroke="#131722" stroke-width="0.6" stroke-linejoin="round"/>
<circle cx="232.7" cy="833.9" r="2.5" fill="#131722"/>
<path d="M238.6 831 H244.6 L239.4 844.8 H233.6 Z" fill="#131722" stroke="#131722" stroke-width="0.6" stroke-linejoin="round"/>
<text x="266.06" y="876.60" font-size="12" fill="#40434d" text-anchor="start" font-weight="normal" textLength="31.6" lengthAdjust="spacing" stroke="#40434d" stroke-width="0.25">21:00</text>
<text x="415.60" y="876.60" font-size="12" fill="#23262f" text-anchor="middle" font-weight="bold" letter-spacing="0.6">21</text>
<text x="533.54" y="876.60" font-size="12" fill="#40434d" text-anchor="start" font-weight="normal" textLength="31.6" lengthAdjust="spacing" stroke="#40434d" stroke-width="0.25">03:00</text>
<text x="667.28" y="876.60" font-size="12" fill="#40434d" text-anchor="start" font-weight="normal" textLength="31.6" lengthAdjust="spacing" stroke="#40434d" stroke-width="0.25">06:00</text>
<text x="801.02" y="876.60" font-size="12" fill="#40434d" text-anchor="start" font-weight="normal" textLength="31.6" lengthAdjust="spacing" stroke="#40434d" stroke-width="0.25">09:00</text>
<text x="934.76" y="876.60" font-size="12" fill="#40434d" text-anchor="start" font-weight="normal" textLength="31.6" lengthAdjust="spacing" stroke="#40434d" stroke-width="0.25">12:00</text>
<text x="1202.24" y="876.60" font-size="12" fill="#40434d" text-anchor="start" font-weight="normal" textLength="31.6" lengthAdjust="spacing" stroke="#40434d" stroke-width="0.25">18:00</text>
<text x="1335.98" y="876.60" font-size="12" fill="#40434d" text-anchor="start" font-weight="normal" textLength="31.6" lengthAdjust="spacing" stroke="#40434d" stroke-width="0.25">21:00</text>
<text x="1485.52" y="876.60" font-size="12" fill="#23262f" text-anchor="middle" font-weight="bold" letter-spacing="0.6">22</text>
<text x="1603.46" y="876.60" font-size="12" fill="#40434d" text-anchor="start" font-weight="normal" textLength="31.6" lengthAdjust="spacing" stroke="#40434d" stroke-width="0.25">03:00</text>
<rect x="1037.00" y="858.60" width="139.00" height="22.60" fill="#131722" rx="2"/>
<text x="1045.50" y="875.60" font-size="11.8" fill="#e6e7ea" text-anchor="start" font-weight="normal" textLength="80.5" lengthAdjust="spacing" stroke="#e6e7ea" stroke-width="0.3">Tue 21 Mar '23</text>
<text x="1137.00" y="875.60" font-size="11.8" fill="#e6e7ea" text-anchor="start" font-weight="normal" textLength="30.5" lengthAdjust="spacing" stroke="#e6e7ea" stroke-width="0.3">15:30</text>
<g fill="none" stroke="#474a55"><circle cx="1677.4" cy="872.3" r="4.7" stroke-width="1.5"/><path d="M1677.40 877.30 L1677.40 879.00 M1673.86 875.84 L1672.66 877.04 M1672.40 872.30 L1670.70 872.30 M1673.86 868.76 L1672.66 867.56 M1677.40 867.30 L1677.40 865.60 M1680.94 868.76 L1682.14 867.56 M1682.40 872.30 L1684.10 872.30 M1680.94 875.84 L1682.14 877.04" stroke-width="2.3"/></g>
<line x1="206.00" y1="886.20" x2="1714.00" y2="886.20" stroke="#e4e6ee" stroke-width="1.4" />
<text x="221.50" y="909.30" font-size="13.2" fill="#33363f" text-anchor="start" font-weight="normal" textLength="16.5" lengthAdjust="spacing" stroke="#33363f" stroke-width="0.25">1D</text>
<text x="251.80" y="909.30" font-size="13.2" fill="#33363f" text-anchor="start" font-weight="normal" textLength="17.5" lengthAdjust="spacing" stroke="#33363f" stroke-width="0.25">5D</text>
<text x="284.30" y="909.30" font-size="13.2" fill="#33363f" text-anchor="start" font-weight="normal" textLength="18.6" lengthAdjust="spacing" stroke="#33363f" stroke-width="0.25">1M</text>
<text x="317.00" y="909.30" font-size="13.2" fill="#33363f" text-anchor="start" font-weight="normal" textLength="19.5" lengthAdjust="spacing" stroke="#33363f" stroke-width="0.25">3M</text>
<text x="350.00" y="909.30" font-size="13.2" fill="#33363f" text-anchor="start" font-weight="normal" textLength="19.5" lengthAdjust="spacing" stroke="#33363f" stroke-width="0.25">6M</text>
<text x="383.30" y="909.30" font-size="13.2" fill="#33363f" text-anchor="start" font-weight="normal" textLength="26.5" lengthAdjust="spacing" stroke="#33363f" stroke-width="0.25">YTD</text>
<text x="424.50" y="909.30" font-size="13.2" fill="#33363f" text-anchor="start" font-weight="normal" textLength="15.8" lengthAdjust="spacing" stroke="#33363f" stroke-width="0.25">1Y</text>
<text x="453.80" y="909.30" font-size="13.2" fill="#33363f" text-anchor="start" font-weight="normal" textLength="16.6" lengthAdjust="spacing" stroke="#33363f" stroke-width="0.25">5Y</text>
<text x="484.20" y="909.30" font-size="13.2" fill="#33363f" text-anchor="start" font-weight="normal" textLength="15.4" lengthAdjust="spacing" stroke="#33363f" stroke-width="0.25">All</text>
<line x1="515.80" y1="894.00" x2="515.80" y2="914.00" stroke="#e4e6ee" stroke-width="1.2" />
<g fill="none" stroke="#33363f" stroke-width="1.3" stroke-linecap="round" stroke-linejoin="round"><path d="M531.3 903.6 V899.8 a1.6 1.6 0 0 1 1.6 -1.6 H545.6 a1.6 1.6 0 0 1 1.6 1.6 V908.8 a1.6 1.6 0 0 1 -1.6 1.6 H542.4"/><path d="M531.3 901.4 H547.2 M535.2 896.4 V898.2 M543.3 896.4 V898.2 M531.3 907 H539.2 M536.6 904.2 L539.4 907 L536.6 909.8"/></g>
<text x="1490.50" y="909.30" font-size="13.2" fill="#33363f" text-anchor="start" font-weight="normal" textLength="98" lengthAdjust="spacing" stroke="#33363f" stroke-width="0.25">23:19:50 (UTC)</text>
<line x1="1604.80" y1="894.00" x2="1604.80" y2="914.00" stroke="#e4e6ee" stroke-width="1.2" />
<text x="1617.20" y="909.30" font-size="13.2" fill="#33363f" text-anchor="start" font-weight="normal" stroke="#33363f" stroke-width="0.25">%</text>
<text x="1643.50" y="909.30" font-size="13.2" fill="#33363f" text-anchor="start" font-weight="normal" textLength="19" lengthAdjust="spacing" stroke="#33363f" stroke-width="0.25">log</text>
<text x="1676.30" y="909.30" font-size="13.2" fill="#33363f" text-anchor="start" font-weight="normal" textLength="27.5" lengthAdjust="spacing" stroke="#33363f" stroke-width="0.25">auto</text>
</svg>
</body>
</html>
